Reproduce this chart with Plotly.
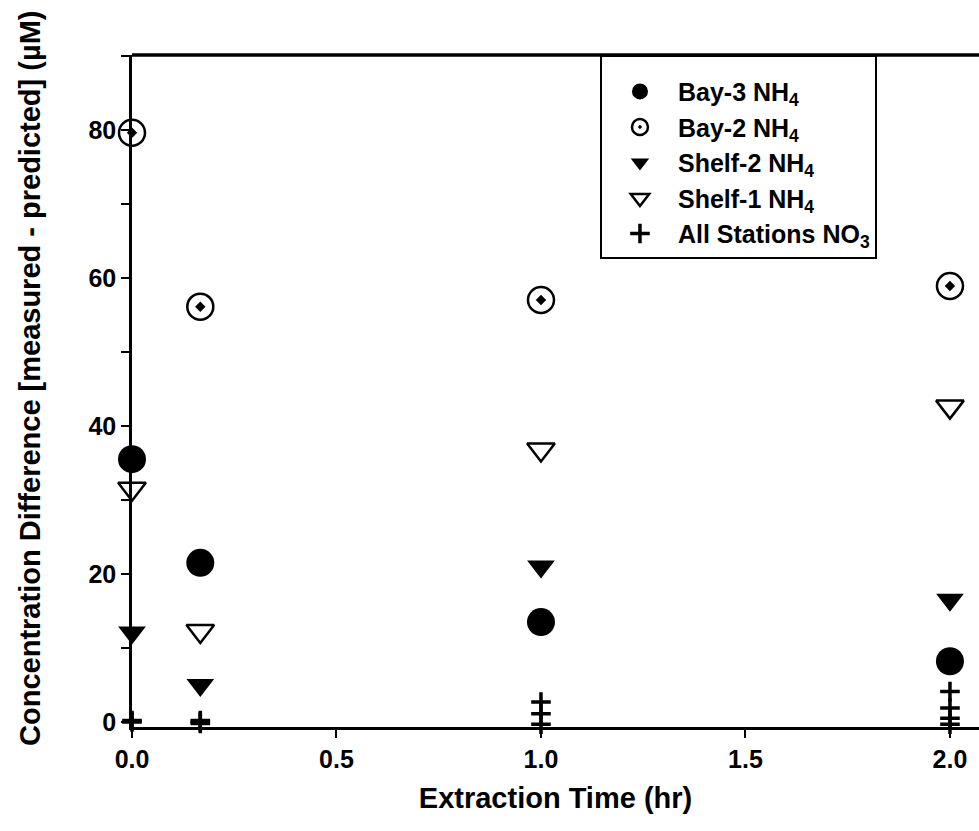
import plotly.graph_objects as go

# Data (x = extraction time in hr; y = concentration difference in uM)
bay3_x = [0.0, 0.167, 1.0, 2.0]
bay3_y = [35.5, 21.5, 13.5, 8.2]

bay2_x = [0.0, 0.167, 1.0, 2.0]
bay2_y = [79.6, 56.1, 57.0, 58.9]

shelf2_x = [0.0, 0.167, 1.0, 2.0]
shelf2_y = [12.1, 5.0, 21.0, 16.5]

shelf1_x = [0.0, 0.167, 1.0, 2.0]
shelf1_y = [31.5, 12.3, 36.8, 42.6]

no3_x = [0.0, 0.0, 0.167, 0.167, 0.167, 1.0, 1.0, 1.0, 2.0, 2.0, 2.0, 2.0]
no3_y = [0.0, 0.2, 0.0, 0.2, -0.2, 2.7, 1.1, -0.3, 4.1, 1.9, 0.5, -0.3]

x_ticks = [0.0, 0.5, 1.0, 1.5, 2.0]
x_ticklabels = ["0.0", "0.5", "1.0", "1.5", "2.0"]
y_ticks = [0, 20, 40, 60, 80]
y_ticklabels = ["0", "20", "40", "60", "80"]

x_title = "Extraction Time (hr)"
y_title = "Concentration Difference [measured - predicted] (µM)"

FONT = "Liberation Sans"

fig = go.Figure()
fig.add_trace(go.Scatter(
    x=bay3_x, y=bay3_y, mode="markers", name="Bay-3 NH<sub>4</sub>", cliponaxis=False,
    marker=dict(symbol="circle", size=28, color="black", line=dict(width=0)),
))
fig.add_trace(go.Scatter(
    x=bay2_x, y=bay2_y, mode="markers", name="Bay-2 NH<sub>4</sub>", cliponaxis=False,
    marker=dict(symbol="circle-open-dot", size=26, color="black", line=dict(width=2.5)),
))
fig.add_trace(go.Scatter(
    x=bay2_x, y=bay2_y, mode="markers", showlegend=False, hoverinfo="skip", cliponaxis=False,
    marker=dict(symbol="diamond", size=8, color="black", line=dict(width=0)),
))
fig.add_trace(go.Scatter(
    x=shelf2_x, y=shelf2_y, mode="markers", name="Shelf-2 NH<sub>4</sub>", cliponaxis=False,
    marker=dict(symbol="triangle-down", size=24, color="black", line=dict(width=0)),
))
fig.add_trace(go.Scatter(
    x=shelf1_x, y=shelf1_y, mode="markers", name="Shelf-1 NH<sub>4</sub>", cliponaxis=False,
    marker=dict(symbol="triangle-down-open", size=24, color="black", line=dict(width=2.5)),
))
fig.add_trace(go.Scatter(
    x=no3_x, y=no3_y, mode="markers", name="All Stations NO<sub>3</sub>", cliponaxis=False,
    marker=dict(symbol="cross-thin", size=14, color="black", line=dict(width=3.5, color="black")),
))

fig.update_layout(
    width=979, height=831,
    margin=dict(l=132, r=0, t=55, b=104),
    paper_bgcolor="white", plot_bgcolor="white",
    font=dict(family=FONT, color="black"),
    legend=dict(
        x=0.5525, y=1.0, xanchor="left", yanchor="top",
        bgcolor="white", bordercolor="black", borderwidth=2,
        font=dict(family=FONT, size=25, color="black", weight="bold"),
        title=dict(text=" ", font=dict(family=FONT, size=9)),
        itemwidth=66, tracegroupgap=0,
    ),
    xaxis=dict(
        range=[0.0, 2.071], showgrid=False, zeroline=False,
        showline=True, linecolor="black", linewidth=2.5, mirror=False,
        tickmode="array", tickvals=x_ticks, ticktext=x_ticklabels,
        ticks="outside", ticklen=8, tickwidth=2, tickcolor="black",
        tickfont=dict(family=FONT, size=25, color="black", weight="bold"),
        title=dict(text=x_title, standoff=16,
                   font=dict(family=FONT, size=29, color="black", weight="bold")),
    ),
    yaxis=dict(
        range=[-0.68, 90.1], showgrid=False, zeroline=False,
        showline=True, linecolor="black", linewidth=2.5, mirror=False,
        tickmode="array", tickvals=y_ticks, ticktext=y_ticklabels,
        ticks="outside", ticklen=8, tickwidth=2, tickcolor="black",
        minor=dict(dtick=10, tick0=0, ticks="outside", ticklen=8, tickwidth=2, tickcolor="black"),
        tickfont=dict(family=FONT, size=25, color="black", weight="bold"),
    ),
    annotations=[dict(
        text=y_title, xref="paper", yref="paper", x=-0.1204, y=0.518,
        xanchor="center", yanchor="middle", textangle=-90, showarrow=False,
        font=dict(family=FONT, size=29, color="black", weight="bold"),
    )],
    shapes=[dict(type="line", xref="paper", yref="paper", x0=0, x1=1, y0=1, y1=1,
                 line=dict(color="black", width=3.5))],
)

fig.write_html("out.html")
